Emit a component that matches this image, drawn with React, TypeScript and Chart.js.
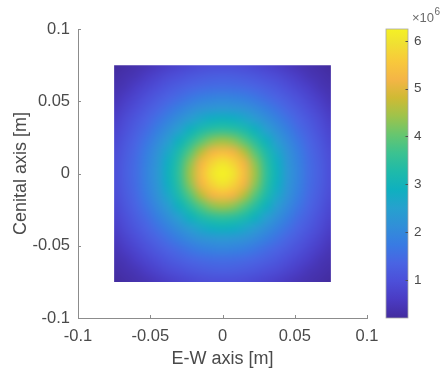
import React, { useEffect, useRef } from 'react';
import { Chart, registerables } from 'chart.js';

Chart.register(...registerables);

// Grid node coordinates [m]
const xNodes = [
  -0.075, -0.0675, -0.06, -0.0525, -0.045, -0.0375, -0.03, -0.0225, -0.015, -0.0075, 0,
  0.0075, 0.015, 0.0225, 0.03, 0.0375, 0.045, 0.0525, 0.06, 0.0675, 0.075,
];
const yNodes = [
  0.075, 0.0675, 0.06, 0.0525, 0.045, 0.0375, 0.03, 0.0225, 0.015, 0.0075, 0,
  -0.0075, -0.015, -0.0225, -0.03, -0.0375, -0.045, -0.0525, -0.06, -0.0675, -0.075,
]; // top -> bottom

// Values (x10^6); each row follows xNodes. Rows named by distance from centre row.
const r10 = [0.20, 0.28, 0.36, 0.43, 0.54, 0.66, 0.76, 0.84, 0.90, 0.94, 0.95, 0.94, 0.90, 0.84, 0.76, 0.66, 0.54, 0.43, 0.36, 0.28, 0.20];
const r9 = [0.28, 0.37, 0.45, 0.61, 0.75, 0.88, 0.99, 1.09, 1.16, 1.21, 1.23, 1.21, 1.16, 1.09, 0.99, 0.88, 0.75, 0.61, 0.45, 0.37, 0.28];
const r8 = [0.36, 0.45, 0.63, 0.80, 0.95, 1.11, 1.24, 1.35, 1.43, 1.48, 1.50, 1.48, 1.43, 1.35, 1.24, 1.11, 0.95, 0.80, 0.63, 0.45, 0.36];
const r7 = [0.43, 0.61, 0.80, 0.98, 1.16, 1.33, 1.48, 1.65, 1.79, 1.87, 1.90, 1.87, 1.79, 1.65, 1.48, 1.33, 1.16, 0.98, 0.80, 0.61, 0.43];
const r6 = [0.54, 0.75, 0.95, 1.16, 1.37, 1.58, 1.82, 2.02, 2.17, 2.27, 2.30, 2.27, 2.17, 2.02, 1.82, 1.58, 1.37, 1.16, 0.95, 0.75, 0.54];
const r5 = [0.66, 0.88, 1.11, 1.33, 1.58, 1.87, 2.14, 2.41, 2.68, 2.86, 2.93, 2.86, 2.68, 2.41, 2.14, 1.87, 1.58, 1.33, 1.11, 0.88, 0.66];
const r4 = [0.76, 0.99, 1.24, 1.48, 1.82, 2.14, 2.51, 2.93, 3.26, 3.47, 3.55, 3.47, 3.26, 2.93, 2.51, 2.14, 1.82, 1.48, 1.24, 0.99, 0.76];
const r3 = [0.84, 1.09, 1.35, 1.65, 2.02, 2.41, 2.93, 3.40, 3.90, 4.30, 4.45, 4.30, 3.90, 3.40, 2.93, 2.41, 2.02, 1.65, 1.35, 1.09, 0.84];
const r2 = [0.90, 1.16, 1.43, 1.79, 2.17, 2.68, 3.26, 3.90, 4.60, 5.14, 5.35, 5.14, 4.60, 3.90, 3.26, 2.68, 2.17, 1.79, 1.43, 1.16, 0.90];
const r1 = [0.94, 1.21, 1.48, 1.87, 2.27, 2.86, 3.47, 4.30, 5.14, 5.73, 6.00, 5.73, 5.14, 4.30, 3.47, 2.86, 2.27, 1.87, 1.48, 1.21, 0.94];
const r0 = [0.95, 1.23, 1.50, 1.90, 2.30, 2.93, 3.55, 4.45, 5.35, 6.00, 6.25, 6.00, 5.35, 4.45, 3.55, 2.93, 2.30, 1.90, 1.50, 1.23, 0.95];
const values = [r10, r9, r8, r7, r6, r5, r4, r3, r2, r1, r0, r1, r2, r3, r4, r5, r6, r7, r8, r9, r10];

// Axis ticks
const axisTickValues = [-0.1, -0.05, 0, 0.05, 0.1];
const axisTickLabels = ['-0.1', '-0.05', '0', '0.05', '0.1'];
const cbTickValues = [1, 2, 3, 4, 5, 6];
const cbTickLabels = ['1', '2', '3', '4', '5', '6'];

const xTitle = 'E-W axis [m]';
const yTitle = 'Cenital axis [m]';

// Parula colormap anchors
const parula: number[][] = [
  [0.2422, 0.1504, 0.6603],
  [0.2706, 0.2147, 0.8364],
  [0.2813, 0.3006, 0.9414],
  [0.2699, 0.3892, 0.9906],
  [0.1963, 0.4847, 0.9892],
  [0.1687, 0.5703, 0.9359],
  [0.1248, 0.6459, 0.8883],
  [0.0297, 0.7082, 0.8163],
  [0.0964, 0.75, 0.712],
  [0.2161, 0.7849, 0.5923],
  [0.3909, 0.8029, 0.4354],
  [0.6174, 0.7876, 0.2612],
  [0.8203, 0.7498, 0.1535],
  [0.9728, 0.7298, 0.2394],
  [0.9892, 0.8136, 0.1885],
  [0.9597, 0.9135, 0.1423],
  [0.9769, 0.9839, 0.0805],
];
const parulaPos = parula.map((_, i) => (i < parula.length - 1 ? (i * 4) / 63 : 1));
// slight print-like muting per channel
const CH_SCALE = [0.95, 0.93, 0.82];
const CH_OFFSET = [8, 8, 20];

function toRGB(c: number[]): number[] {
  return c.map((v, k) => Math.round(255 * v * CH_SCALE[k] + CH_OFFSET[k]));
}

function cmap(t: number): number[] {
  const tt = Math.min(1, Math.max(0, t));
  let i = 0;
  while (i < parulaPos.length - 2 && tt > parulaPos[i + 1]) i++;
  const f = (tt - parulaPos[i]) / (parulaPos[i + 1] - parulaPos[i]);
  const a = parula[i], b = parula[i + 1];
  return toRGB([0, 1, 2].map((k) => a[k] + (b[k] - a[k]) * f));
}

const allVals = values.flat();
const cmin = Math.min(...allVals);
const cmax = Math.max(...allVals);

const FONT = "'Liberation Sans', Arial, Helvetica, sans-serif";
const TEXT = '#4a4a4a';
const AXIS = '#8c8c8c';

const heatPlugin = {
  id: 'heatmap',
  beforeDatasetsDraw(chart: any) {
    const { ctx, scales } = chart;
    const x = scales.x, y = scales.y;
    const nx = xNodes.length, ny = yNodes.length;
    const off = document.createElement('canvas');
    off.width = nx;
    off.height = ny;
    const octx = off.getContext('2d')!;
    const img = octx.createImageData(nx, ny);
    for (let r = 0; r < ny; r++) {
      for (let c = 0; c < nx; c++) {
        const col = cmap((values[r][c] - cmin) / (cmax - cmin));
        const p = (r * nx + c) * 4;
        img.data[p] = col[0];
        img.data[p + 1] = col[1];
        img.data[p + 2] = col[2];
        img.data[p + 3] = 255;
      }
    }
    octx.putImageData(img, 0, 0);
    const hx = (xNodes[1] - xNodes[0]) / 2;
    const hy = (yNodes[0] - yNodes[1]) / 2;
    const L = x.getPixelForValue(xNodes[0] - hx);
    const R = x.getPixelForValue(xNodes[nx - 1] + hx);
    const T = y.getPixelForValue(yNodes[0] + hy);
    const B = y.getPixelForValue(yNodes[ny - 1] - hy);
    const cl = x.getPixelForValue(xNodes[0]);
    const cr = x.getPixelForValue(xNodes[nx - 1]);
    const ct = y.getPixelForValue(yNodes[0]);
    const cb = y.getPixelForValue(yNodes[ny - 1]);
    ctx.save();
    ctx.beginPath();
    ctx.rect(cl, ct, cr - cl, cb - ct);
    ctx.clip();
    ctx.imageSmoothingEnabled = true;
    (ctx as any).imageSmoothingQuality = 'high';
    ctx.drawImage(off, L, T, R - L, B - T);
    ctx.restore();
  },
  afterDraw(chart: any) {
    const { ctx, scales, chartArea } = chart;
    const x = scales.x, y = scales.y, c = scales.cb;
    ctx.save();
    // inward ticks on main axes
    ctx.strokeStyle = AXIS;
    ctx.lineWidth = 1;
    ctx.beginPath();
    axisTickValues.forEach((v) => {
      const px = Math.round(x.getPixelForValue(v)) + 0.5;
      ctx.moveTo(px, chartArea.bottom);
      ctx.lineTo(px, chartArea.bottom - 3);
      const py = Math.round(y.getPixelForValue(v)) + 0.5;
      ctx.moveTo(chartArea.left, py);
      ctx.lineTo(chartArea.left + 3, py);
    });
    ctx.stroke();

    // colorbar
    const barL = c.left + 19;
    const barR = c.left + 41;
    const top = c.getPixelForValue(cmax);
    const bot = c.getPixelForValue(cmin);
    const g = ctx.createLinearGradient(0, bot, 0, top);
    parula.forEach((col, i) => {
      g.addColorStop(parulaPos[i], `rgb(${toRGB(col).join(',')})`);
    });
    ctx.fillStyle = g;
    ctx.fillRect(barL, top, barR - barL, bot - top);
    ctx.strokeStyle = '#a8a8a8';
    ctx.lineWidth = 0.8;
    ctx.strokeRect(barL, top, barR - barL, bot - top);
    ctx.strokeStyle = '#505050';
    ctx.lineWidth = 1;
    ctx.beginPath();
    cbTickValues.forEach((v) => {
      const py = Math.round(c.getPixelForValue(v)) + 0.5;
      ctx.moveTo(barR, py);
      ctx.lineTo(barR - 2.5, py);
    });
    ctx.stroke();

    // exponent label
    ctx.fillStyle = '#6a6a6a';
    ctx.textBaseline = 'alphabetic';
    ctx.textAlign = 'left';
    ctx.font = `13px ${FONT}`;
    ctx.fillText('\u00d710', barR + 4, 22);
    const w = ctx.measureText('\u00d710').width;
    ctx.font = `10px ${FONT}`;
    ctx.fillText('6', barR + 4 + w + 0.5, 15);
    ctx.restore();
  },
};

export default function App() {
  const ref = useRef<HTMLCanvasElement | null>(null);
  useEffect(() => {
    if (!ref.current) return;
    const points: { x: number; y: number }[] = [];
    yNodes.forEach((yy) => xNodes.forEach((xx) => points.push({ x: xx, y: yy })));
    const chart = new Chart(ref.current, {
      type: 'scatter',
      data: {
        datasets: [{ data: points, pointRadius: 0, pointHoverRadius: 0, showLine: false }],
      },
      options: {
        animation: false,
        responsive: false,
        devicePixelRatio: 1,
        layout: { padding: { top: 29, left: 0, right: 0, bottom: 0 } },
        plugins: { legend: { display: false }, tooltip: { enabled: false } },
        scales: {
          x: {
            type: 'linear',
            min: -0.1,
            max: 0.1,
            afterBuildTicks: (s: any) => {
              s.ticks = axisTickValues.map((v) => ({ value: v }));
            },
            afterFit: (s: any) => {
              s.height = 56;
            },
            grid: { display: true, drawOnChartArea: false, drawTicks: false },
            border: { display: true, color: AXIS, width: 1 },
            ticks: {
              autoSkip: false,
              maxRotation: 0,
              padding: 9,
              color: TEXT,
              font: { family: FONT, size: 16.5 },
              callback: (_v: any, i: number) => axisTickLabels[i],
            },
            title: {
              display: true,
              text: xTitle,
              color: TEXT,
              font: { family: FONT, size: 18 },
              padding: { top: 0, bottom: 4 },
            },
          },
          y: {
            type: 'linear',
            position: 'left',
            min: -0.1,
            max: 0.1,
            afterBuildTicks: (s: any) => {
              s.ticks = axisTickValues.map((v) => ({ value: v }));
            },
            afterFit: (s: any) => {
              s.width = 78;
            },
            grid: { display: true, drawOnChartArea: false, drawTicks: false },
            border: { display: true, color: AXIS, width: 1 },
            ticks: {
              autoSkip: false,
              padding: 8,
              color: TEXT,
              font: { family: FONT, size: 16.5 },
              callback: (_v: any, i: number) => axisTickLabels[i],
            },
            title: {
              display: true,
              text: yTitle,
              color: TEXT,
              font: { family: FONT, size: 18 },
              padding: { top: 10, bottom: 0 },
            },
          },
          cb: {
            type: 'linear',
            position: 'right',
            min: cmin,
            max: cmax,
            afterBuildTicks: (s: any) => {
              s.ticks = cbTickValues.map((v) => ({ value: v }));
            },
            afterFit: (s: any) => {
              s.width = 81;
            },
            grid: {
              display: true,
              drawOnChartArea: false,
              drawTicks: true,
              tickLength: 47,
              color: 'rgba(0,0,0,0)',
            },
            border: { display: false },
            ticks: {
              autoSkip: false,
              padding: 0,
              color: TEXT,
              font: { family: FONT, size: 13.5 },
              callback: (_v: any, i: number) => cbTickLabels[i],
            },
          },
        },
      },
      plugins: [heatPlugin],
    } as any);
    return () => chart.destroy();
  }, []);
  return (
    <div style={{ position: 'fixed', left: 0, top: 0, width: 448, height: 374, background: '#fff' }}>
      <canvas ref={ref} width={448} height={374} style={{ display: 'block' }} />
    </div>
  );
}
